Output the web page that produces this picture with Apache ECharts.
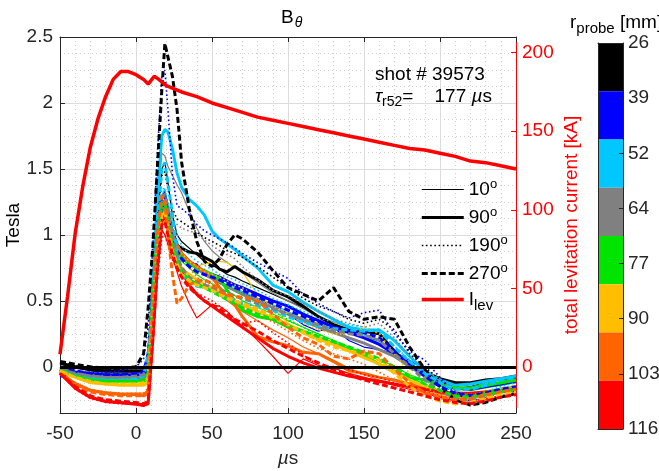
<!DOCTYPE html>
<html>
<head>
<meta charset="utf-8">
<script src="https://cdn.jsdelivr.net/npm/echarts@6/dist/echarts.min.js"></script>
<style>
html, body { margin: 0; padding: 0; background: #fff; }
#chart { width: 659px; height: 471px; }
</style>
</head>
<body>
<div id="chart"></div>
<script>
// time base of the B-dot traces [us]
const timeUs = [-50, -40, -30, -20, -10, 0, 5, 8, 11, 14, 17, 19, 21, 24, 27, 30, 35, 40, 45, 50, 55, 60, 65, 70,
  80, 90, 100, 110, 120, 130, 140, 150, 160, 170, 180, 190, 200, 210, 220, 230, 240, 250]

const probeRadius = [26, 39, 52, 64, 77, 90, 103, 116]
const angleNames = ['10°', '90°', '190°', '270°']

// B_theta [T], one row per probe radius (26 -> 116 mm)
const b10 = [
  [0.02, -0.01, -0.03, -0.04, -0.04, -0.04, -0.04, -0.02, 0.5, 1.1, 1.5, 1.55, 1.4, 1.15, 1.0, 0.95, 0.9, 0.85, 0.8, 0.77, 0.74, 0.7, 0.68, 0.65, 0.6, 0.55, 0.5, 0.45, 0.38, 0.32, 0.27, 0.22, 0.2, 0.1, 0.0, -0.05, -0.1, -0.13, -0.15, -0.12, -0.1, -0.09],
  [-0.05, -0.05, -0.06, -0.07, -0.07, -0.06, -0.06, -0.03, 0.5, 1.0, 1.3, 1.33, 1.2, 1.05, 0.95, 0.85, 0.78, 0.78, 0.72, 0.69, 0.65, 0.6, 0.58, 0.56, 0.52, 0.46, 0.4, 0.32, 0.27, 0.3, 0.2, 0.15, 0.13, 0.1, 0.05, -0.02, -0.1, -0.15, -0.17, -0.15, -0.13, -0.12],
  [-0.02, -0.06, -0.08, -0.09, -0.09, -0.09, -0.09, -0.06, 0.5, 1.0, 1.3, 1.35, 1.22, 1.02, 0.92, 0.85, 0.8, 0.75, 0.72, 0.7, 0.67, 0.64, 0.6, 0.57, 0.52, 0.47, 0.42, 0.36, 0.32, 0.3, 0.28, 0.24, 0.18, 0.1, 0.0, -0.08, -0.14, -0.17, -0.16, -0.12, -0.1, -0.08],
  [-0.02, -0.05, -0.07, -0.08, -0.08, -0.08, -0.08, -0.05, 0.55, 1.2, 1.62, 1.6, 1.52, 1.45, 1.38, 1.32, 1.18, 1.05, 0.95, 0.88, 0.83, 0.79, 0.75, 0.72, 0.64, 0.56, 0.5, 0.44, 0.38, 0.34, 0.3, 0.25, 0.2, 0.12, 0.03, -0.05, -0.11, -0.15, -0.17, -0.15, -0.12, -0.1],
  [-0.03, -0.07, -0.1, -0.11, -0.11, -0.11, -0.11, -0.1, 0.5, 0.95, 1.2, 1.22, 1.1, 0.95, 0.85, 0.8, 0.75, 0.7, 0.66, 0.63, 0.6, 0.57, 0.54, 0.5, 0.45, 0.4, 0.35, 0.3, 0.25, 0.2, 0.15, 0.1, 0.06, 0.0, -0.06, -0.1, -0.14, -0.17, -0.18, -0.16, -0.14, -0.12],
  [-0.03, -0.08, -0.11, -0.13, -0.13, -0.13, -0.13, -0.12, 0.45, 0.9, 1.15, 1.18, 1.05, 0.95, 0.88, 0.82, 0.78, 0.76, 0.78, 0.79, 0.8, 0.79, 0.75, 0.72, 0.55, 0.45, 0.33, 0.25, 0.2, 0.17, 0.14, 0.1, 0.05, -0.02, -0.08, -0.13, -0.18, -0.2, -0.2, -0.18, -0.16, -0.14],
  [-0.04, -0.12, -0.17, -0.19, -0.2, -0.2, -0.2, -0.18, 0.4, 0.85, 1.12, 1.15, 1.05, 0.9, 0.82, 0.76, 0.7, 0.66, 0.62, 0.58, 0.54, 0.5, 0.46, 0.42, 0.35, 0.28, 0.22, 0.15, 0.1, 0.05, -0.01, -0.06, -0.1, -0.13, -0.16, -0.19, -0.22, -0.24, -0.24, -0.22, -0.2, -0.18],
  [-0.05, -0.17, -0.24, -0.27, -0.28, -0.29, -0.3, -0.28, 0.2, 0.7, 1.04, 1.0, 0.93, 0.83, 0.72, 0.61, 0.48, 0.37, 0.42, 0.47, 0.46, 0.42, 0.36, 0.31, 0.2, 0.08, -0.05, 0.06, 0.01, -0.01, -0.05, -0.08, -0.11, -0.14, -0.17, -0.2, -0.23, -0.26, -0.27, -0.25, -0.23, -0.21]
]
const b90 = [
  [0.03, 0.0, -0.02, -0.03, -0.03, -0.03, -0.03, -0.02, 0.6, 1.0, 1.2, 1.22, 1.1, 0.98, 0.92, 0.9, 0.87, 0.86, 0.83, 0.8, 0.74, 0.72, 0.76, 0.72, 0.66, 0.58, 0.53, 0.46, 0.38, 0.32, 0.28, 0.27, 0.25, 0.12, 0.0, -0.04, -0.09, -0.12, -0.12, -0.1, -0.09, -0.07],
  [-0.02, -0.04, -0.05, -0.06, -0.06, -0.06, -0.06, -0.04, 0.55, 1.0, 1.28, 1.3, 1.18, 1.0, 0.92, 0.86, 0.8, 0.76, 0.72, 0.7, 0.68, 0.65, 0.62, 0.6, 0.55, 0.5, 0.46, 0.4, 0.35, 0.3, 0.26, 0.22, 0.17, 0.1, 0.02, -0.05, -0.12, -0.16, -0.17, -0.15, -0.13, -0.11],
  [-0.03, -0.07, -0.09, -0.1, -0.1, -0.1, -0.1, -0.05, 0.6, 1.3, 1.75, 1.8, 1.78, 1.65, 1.47, 1.36, 1.27, 1.22, 1.15, 1.03, 0.97, 0.93, 0.89, 0.84, 0.75, 0.62, 0.57, 0.49, 0.42, 0.36, 0.3, 0.28, 0.28, 0.2, 0.08, -0.03, -0.1, -0.14, -0.13, -0.11, -0.09, -0.07],
  [-0.01, -0.05, -0.07, -0.08, -0.08, -0.08, -0.08, -0.06, 0.5, 1.0, 1.25, 1.25, 1.15, 1.0, 0.92, 0.86, 0.8, 0.75, 0.7, 0.67, 0.64, 0.61, 0.58, 0.55, 0.5, 0.45, 0.4, 0.35, 0.3, 0.26, 0.22, 0.18, 0.13, 0.08, 0.0, -0.07, -0.13, -0.16, -0.16, -0.14, -0.12, -0.1],
  [-0.02, -0.07, -0.1, -0.11, -0.11, -0.11, -0.11, -0.09, 0.5, 1.0, 1.2, 1.2, 1.1, 0.96, 0.89, 0.83, 0.78, 0.75, 0.73, 0.7, 0.67, 0.58, 0.5, 0.43, 0.38, 0.36, 0.3, 0.27, 0.22, 0.18, 0.13, 0.09, 0.02, -0.04, -0.08, -0.1, -0.14, -0.16, -0.16, -0.14, -0.12, -0.1],
  [-0.03, -0.08, -0.12, -0.13, -0.14, -0.14, -0.14, -0.12, 0.45, 0.9, 1.12, 1.15, 1.05, 0.9, 0.8, 0.74, 0.7, 0.66, 0.62, 0.6, 0.57, 0.54, 0.5, 0.47, 0.42, 0.37, 0.32, 0.27, 0.22, 0.17, 0.12, 0.07, 0.02, -0.04, -0.1, -0.15, -0.19, -0.22, -0.23, -0.21, -0.19, -0.17],
  [-0.04, -0.13, -0.18, -0.2, -0.21, -0.21, -0.22, -0.2, 0.4, 0.9, 1.18, 1.2, 1.15, 1.0, 0.92, 0.86, 0.8, 0.76, 0.72, 0.68, 0.6, 0.53, 0.47, 0.38, 0.23, 0.19, 0.16, 0.11, 0.1, 0.04, -0.03, -0.05, -0.08, -0.1, -0.13, -0.17, -0.2, -0.22, -0.22, -0.2, -0.19, -0.17],
  [-0.05, -0.16, -0.23, -0.26, -0.27, -0.28, -0.29, -0.28, 0.2, 0.75, 1.1, 1.15, 1.05, 0.9, 0.8, 0.72, 0.62, 0.55, 0.5, 0.46, 0.42, 0.38, 0.34, 0.3, 0.22, 0.14, 0.08, 0.03, -0.01, -0.04, -0.07, -0.09, -0.11, -0.13, -0.15, -0.17, -0.19, -0.2, -0.2, -0.19, -0.18, -0.17]
]
const b190 = [
  [0.04, 0.01, -0.01, -0.02, -0.02, -0.01, 0.0, 0.05, 0.55, 1.1, 1.45, 1.48, 1.35, 1.2, 1.12, 1.1, 1.06, 1.02, 0.98, 0.95, 0.92, 0.88, 0.86, 0.83, 0.76, 0.68, 0.6, 0.52, 0.46, 0.42, 0.36, 0.33, 0.36, 0.28, 0.1, 0.0, -0.1, -0.18, -0.24, -0.22, -0.19, -0.17],
  [-0.08, -0.04, -0.04, -0.04, -0.03, 0.0, 0.06, 0.3, 0.9, 1.6, 2.2, 2.25, 1.95, 1.45, 1.22, 1.2, 1.15, 1.08, 1.03, 1.0, 0.97, 0.94, 0.9, 0.86, 0.79, 0.73, 0.67, 0.55, 0.48, 0.42, 0.37, 0.41, 0.43, 0.25, 0.12, 0.05, -0.08, -0.2, -0.26, -0.23, -0.2, -0.18],
  [-0.03, -0.06, -0.08, -0.09, -0.09, -0.08, -0.06, 0.05, 0.5, 1.05, 1.35, 1.35, 1.25, 1.1, 1.0, 0.92, 0.85, 0.8, 0.77, 0.74, 0.7, 0.68, 0.66, 0.63, 0.58, 0.52, 0.47, 0.42, 0.37, 0.34, 0.32, 0.3, 0.26, 0.16, 0.05, -0.05, -0.13, -0.2, -0.22, -0.19, -0.15, -0.12],
  [-0.02, -0.05, -0.06, -0.07, -0.07, -0.06, -0.05, 0.0, 0.5, 1.0, 1.3, 1.32, 1.2, 1.12, 1.08, 1.05, 1.03, 1.01, 0.96, 0.92, 0.88, 0.85, 0.82, 0.76, 0.66, 0.58, 0.54, 0.48, 0.42, 0.36, 0.33, 0.3, 0.33, 0.22, 0.08, -0.02, -0.1, -0.18, -0.22, -0.2, -0.17, -0.15],
  [-0.03, -0.07, -0.09, -0.1, -0.1, -0.1, -0.1, -0.06, 0.5, 0.95, 1.18, 1.2, 1.1, 0.98, 0.9, 0.84, 0.78, 0.74, 0.7, 0.68, 0.65, 0.62, 0.58, 0.55, 0.48, 0.42, 0.36, 0.3, 0.24, 0.2, 0.15, 0.1, 0.05, -0.02, -0.08, -0.13, -0.17, -0.2, -0.21, -0.19, -0.17, -0.15],
  [-0.03, -0.08, -0.11, -0.12, -0.13, -0.12, -0.12, -0.08, 0.45, 0.9, 1.12, 1.15, 1.05, 0.97, 0.9, 0.86, 0.8, 0.76, 0.72, 0.7, 0.68, 0.65, 0.62, 0.6, 0.52, 0.46, 0.4, 0.33, 0.28, 0.25, 0.25, 0.3, 0.25, 0.1, -0.05, -0.15, -0.22, -0.25, -0.25, -0.22, -0.19, -0.17],
  [-0.04, -0.12, -0.17, -0.19, -0.2, -0.2, -0.2, -0.16, 0.4, 0.85, 1.1, 1.1, 1.02, 0.98, 0.95, 0.85, 0.75, 0.68, 0.64, 0.6, 0.56, 0.52, 0.48, 0.45, 0.4, 0.34, 0.27, 0.2, 0.14, 0.1, 0.06, 0.02, -0.04, -0.1, -0.15, -0.2, -0.24, -0.27, -0.27, -0.25, -0.22, -0.2],
  [-0.05, -0.17, -0.24, -0.27, -0.28, -0.28, -0.29, -0.27, 0.2, 0.65, 0.98, 1.0, 0.92, 0.81, 0.74, 0.68, 0.6, 0.56, 0.53, 0.5, 0.46, 0.42, 0.36, 0.33, 0.35, 0.26, 0.18, 0.09, 0.01, 0.0, -0.02, -0.06, -0.08, -0.12, -0.15, -0.19, -0.22, -0.25, -0.26, -0.24, -0.22, -0.2]
]
const b270 = [
  [0.04, 0.02, 0.0, -0.01, -0.01, 0.0, 0.1, 0.45, 0.9, 1.5, 2.1, 2.45, 2.35, 2.2, 1.95, 1.55, 1.2, 0.95, 0.8, 0.76, 0.82, 0.93, 1.0, 0.97, 0.87, 0.73, 0.6, 0.55, 0.5, 0.6, 0.42, 0.36, 0.38, 0.36, 0.15, -0.02, -0.15, -0.25, -0.29, -0.27, -0.23, -0.2],
  [0.0, -0.03, -0.05, -0.06, -0.06, -0.05, -0.04, 0.1, 0.5, 0.95, 1.22, 1.25, 1.15, 0.95, 0.88, 0.82, 0.76, 0.72, 0.7, 0.68, 0.66, 0.63, 0.6, 0.58, 0.53, 0.48, 0.43, 0.38, 0.33, 0.3, 0.27, 0.26, 0.22, 0.12, 0.02, -0.07, -0.15, -0.2, -0.22, -0.2, -0.17, -0.15],
  [-0.02, -0.06, -0.08, -0.09, -0.09, -0.09, -0.07, 0.1, 0.5, 1.1, 1.5, 1.55, 1.4, 1.15, 0.85, 0.7, 0.65, 0.61, 0.6, 0.58, 0.55, 0.52, 0.5, 0.48, 0.46, 0.43, 0.38, 0.34, 0.31, 0.29, 0.28, 0.27, 0.28, 0.15, 0.04, -0.05, -0.12, -0.17, -0.17, -0.14, -0.1, -0.08],
  [-0.02, -0.05, -0.07, -0.08, -0.08, -0.07, -0.06, 0.05, 0.5, 1.0, 1.28, 1.3, 1.2, 1.0, 0.85, 0.75, 0.68, 0.64, 0.62, 0.6, 0.58, 0.56, 0.54, 0.52, 0.48, 0.44, 0.4, 0.36, 0.32, 0.28, 0.25, 0.24, 0.2, 0.1, 0.0, -0.1, -0.18, -0.24, -0.26, -0.23, -0.19, -0.17],
  [-0.03, -0.07, -0.1, -0.11, -0.11, -0.11, -0.1, -0.05, 0.5, 1.0, 1.22, 1.25, 1.1, 0.92, 0.8, 0.72, 0.66, 0.63, 0.6, 0.57, 0.54, 0.51, 0.48, 0.45, 0.4, 0.36, 0.31, 0.27, 0.23, 0.19, 0.15, 0.11, 0.06, 0.0, -0.07, -0.13, -0.18, -0.22, -0.23, -0.21, -0.19, -0.17],
  [-0.03, -0.08, -0.11, -0.13, -0.13, -0.13, -0.12, -0.08, 0.45, 0.9, 1.15, 1.18, 1.05, 0.88, 0.78, 0.7, 0.65, 0.62, 0.6, 0.58, 0.55, 0.52, 0.5, 0.48, 0.44, 0.38, 0.32, 0.26, 0.2, 0.15, 0.12, 0.1, 0.05, -0.05, -0.15, -0.22, -0.26, -0.28, -0.27, -0.24, -0.21, -0.19],
  [-0.05, -0.14, -0.19, -0.21, -0.22, -0.22, -0.22, -0.18, 0.45, 1.0, 1.3, 1.25, 1.0, 0.7, 0.48, 0.52, 0.62, 0.65, 0.66, 0.63, 0.57, 0.55, 0.53, 0.53, 0.5, 0.4, 0.3, 0.22, 0.17, 0.08, 0.06, 0.12, 0.1, -0.02, -0.12, -0.2, -0.23, -0.25, -0.24, -0.21, -0.19, -0.17],
  [-0.05, -0.15, -0.22, -0.25, -0.26, -0.27, -0.28, -0.26, 0.2, 0.75, 1.08, 1.1, 1.0, 0.85, 0.75, 0.68, 0.6, 0.55, 0.5, 0.47, 0.44, 0.4, 0.36, 0.33, 0.27, 0.2, 0.14, 0.08, 0.03, -0.02, -0.06, -0.1, -0.13, -0.16, -0.19, -0.22, -0.25, -0.27, -0.28, -0.26, -0.23, -0.21]
]

// total levitation current [kA]
const levTimeUs = [-50, -45, -40, -35, -30, -25, -20, -15, -10, -5, 0, 5, 8, 12, 15, 20, 25, 30, 40, 50, 60, 70, 80, 90,
  100, 110, 120, 130, 140, 150, 160, 170, 180, 190, 200, 210, 220, 230, 240, 250]
const levCurrent = [8, 45, 85, 115, 140, 158, 172, 183, 188, 188, 186, 183, 180, 185, 183, 179, 177, 175, 172, 168, 165, 162, 159, 157,
  155, 153, 151, 149, 147, 145, 143, 141, 139, 138, 136, 134, 131, 130, 128, 126]

const xTicks = [-50, 250, 50]          // min, max, step
const teslaRange = [-0.35, 2.5]
const kAPerTesla = 84                   // right axis is a scaled copy of the left one
const colorbarCells = [1, 1, 1, 1, 1, 1, 1, 1]

const probeColors = ['#000000', '#0000ff', '#00c8ff', '#808080', '#00e400', '#ffbf00', '#ff6400', '#ff0000']
const angleStyles = [
  { width: 1.2, type: 'solid' },
  { width: 3, type: 'solid' },
  { width: 1.6, type: [1.6, 2.6] },
  { width: 3, type: [6, 3] }
]
const font = 'Liberation Sans, Arial, Helvetica, sans-serif'
const ink = '#262626'

const legendText = {
  '10°': '10{sup|o}',
  '90°': '90{sup|o}',
  '190°': '190{sup|o}',
  '270°': '270{sup|o}',
  'Ilev': 'I{sub|lev}'
}

const chart = echarts.init(document.getElementById('chart'))

const series = []
;[b10, b90, b190, b270].forEach((set, a) => {
  set.forEach((row, r) => {
    series.push({
      name: probeRadius[r] + ' mm ' + angleNames[a],
      type: 'line',
      xAxisIndex: 0,
      yAxisIndex: 0,
      symbol: 'none',
      silent: true,
      z: 2,
      data: timeUs.map((t, i) => [t, row[i]]),
      lineStyle: { color: probeColors[r], width: angleStyles[a].width, type: angleStyles[a].type, cap: 'butt' }
    })
  })
})

// legend samples (black)
angleNames.forEach((n, a) => {
  series.push({
    name: n,
    type: 'line',
    xAxisIndex: 0,
    yAxisIndex: 0,
    symbol: 'none',
    data: [],
    color: '#000',
    lineStyle: { color: '#000', width: angleStyles[a].width, type: angleStyles[a].type }
  })
})

// zero line
series.push({
  name: 'zero',
  type: 'line',
  xAxisIndex: 0,
  yAxisIndex: 0,
  data: [],
  z: 3,
  markLine: {
    silent: true,
    symbol: 'none',
    label: { show: false },
    lineStyle: { color: '#000', width: 3, type: 'solid' },
    data: [{ yAxis: 0 }]
  }
})

series.push({
  name: 'Ilev',
  type: 'line',
  xAxisIndex: 0,
  yAxisIndex: 1,
  symbol: 'none',
  z: 4,
  color: '#ff0000',
  data: levTimeUs.map((t, i) => [t, levCurrent[i]]),
  lineStyle: { color: '#ff0000', width: 3.5 }
})

// colorbar
colorbarCells.forEach((v, i) => {
  series.push({
    name: 'cb' + probeRadius[i],
    type: 'bar',
    xAxisIndex: 2,
    yAxisIndex: 2,
    stack: 'cb',
    barWidth: '100%',
    silent: true,
    data: [v],
    itemStyle: { color: probeColors[i] }
  })
})

const legendItems = angleNames.map((n, a) => ({
  name: n,
  lineStyle: { color: '#000', width: angleStyles[a].width, type: angleStyles[a].type }
})).concat([{ name: 'Ilev', lineStyle: { color: '#ff0000', width: 3.5, type: 'solid' } }])

const option = {
  animation: false,
  backgroundColor: '#fff',
  textStyle: { fontFamily: font },
  title: [
    {
      text: 'B{sub|θ}',
      left: 276,
      top: 1,
      textStyle: {
        fontFamily: font, fontSize: 19, fontWeight: 'normal', color: '#000',
        rich: { sub: { fontFamily: font, fontSize: 14, fontStyle: 'italic', padding: [10, 0, 0, 1] } }
      }
    },
    {
      text: 'shot # 39573',
      left: 370,
      top: 60,
      textStyle: { fontFamily: font, fontSize: 19, fontWeight: 'normal', color: '#000' }
    },
    {
      text: '{i|τ}{sub|r52}=    177 {i|µ}s',
      left: 370,
      top: 80,
      textStyle: {
        fontFamily: font, fontSize: 19, fontWeight: 'normal', color: '#000',
        rich: {
          i: { fontFamily: font, fontSize: 19, fontStyle: 'italic' },
          sub: { fontFamily: font, fontSize: 14, padding: [10, 0, 0, 0] }
        }
      }
    },
    {
      text: 'r{sub|probe} [mm]',
      left: 565,
      top: 4,
      textStyle: {
        fontFamily: font, fontSize: 19, fontWeight: 'normal', color: '#000',
        rich: { sub: { fontFamily: font, fontSize: 15, padding: [12, 0, 0, 0] } }
      }
    }
  ],
  legend: {
    orient: 'vertical',
    left: 420,
    top: 178,
    padding: 0,
    itemWidth: 42,
    itemHeight: 14,
    itemGap: 7,
    selectedMode: false,
    data: legendItems,
    formatter: name => legendText[name],
    itemStyle: { opacity: 0 },
    textStyle: {
      fontFamily: font, fontSize: 19, color: '#000',
      rich: {
        sup: { fontFamily: font, fontSize: 13, padding: [0, 0, 10, 0] },
        sub: { fontFamily: font, fontSize: 15, padding: [12, 0, 0, 0] }
      }
    }
  },
  grid: [
    { left: 60, right: 143, top: 37, bottom: 58, outerBoundsMode: 'none' },
    { left: 598, top: 43, width: 25, height: 386, outerBoundsMode: 'none' }
  ],
  xAxis: [
    {
      type: 'value',
      gridIndex: 0,
      position: 'bottom',
      min: xTicks[0],
      max: xTicks[1],
      interval: xTicks[2],
      name: '{i|µ}s',
      nameLocation: 'middle',
      nameGap: 36,
      nameTextStyle: { fontFamily: font, fontSize: 19, color: ink, rich: { i: { fontFamily: font, fontSize: 19, fontStyle: 'italic' } } },
      axisLine: { onZero: false, lineStyle: { color: ink, width: 1 } },
      axisTick: { inside: true, length: 5, lineStyle: { color: ink } },
      axisLabel: { fontFamily: font, fontSize: 19, color: ink, margin: 11 },
      splitLine: { show: true, lineStyle: { color: '#dcdcdc', width: 1 } },
      minorTick: { show: false, splitNumber: 5 },
      minorSplitLine: { show: true, lineStyle: { color: '#cfcfcf', width: 1, type: [1, 3] } }
    },
    {
      type: 'value',
      gridIndex: 0,
      position: 'top',
      min: xTicks[0],
      max: xTicks[1],
      interval: xTicks[2],
      axisLine: { onZero: false, lineStyle: { color: ink, width: 1 } },
      axisTick: { inside: true, length: 5, lineStyle: { color: ink } },
      axisLabel: { show: false },
      splitLine: { show: false }
    },
    {
      type: 'category',
      gridIndex: 1,
      data: [''],
      z: 5,
      axisLine: { show: true, onZero: false, lineStyle: { color: ink } },
      axisTick: { show: false },
      axisLabel: { show: false },
      splitLine: { show: false }
    },
    {
      type: 'category',
      gridIndex: 1,
      position: 'top',
      data: [''],
      z: 5,
      axisLine: { show: true, onZero: false, lineStyle: { color: ink } },
      axisTick: { show: false },
      axisLabel: { show: false },
      splitLine: { show: false }
    }
  ],
  yAxis: [
    {
      type: 'value',
      gridIndex: 0,
      position: 'left',
      min: teslaRange[0],
      max: teslaRange[1],
      name: 'Tesla',
      nameLocation: 'middle',
      nameGap: 37,
      nameMoveOverlap: false,
      nameRotate: 90,
      nameTextStyle: { fontFamily: font, fontSize: 19, color: '#000' },
      axisLine: { onZero: false, lineStyle: { color: ink, width: 1 } },
      axisTick: { inside: true, length: 5, lineStyle: { color: ink } },
      axisLabel: { fontFamily: font, fontSize: 19, color: ink, margin: 7, showMinLabel: false },
      splitLine: { show: true, lineStyle: { color: '#dcdcdc', width: 1 } },
      minorTick: { show: false, splitNumber: 4 },
      minorSplitLine: { show: true, lineStyle: { color: '#cfcfcf', width: 1, type: [1, 3] } }
    },
    {
      type: 'value',
      gridIndex: 0,
      position: 'right',
      min: teslaRange[0] * kAPerTesla,
      max: teslaRange[1] * kAPerTesla,
      name: 'total levitation current [kA]',
      nameLocation: 'middle',
      nameGap: 46,
      nameMoveOverlap: false,
      nameRotate: 90,
      nameTextStyle: { fontFamily: font, fontSize: 19, color: '#ff0000' },
      axisLine: { onZero: false, lineStyle: { color: '#ff0000', width: 1 } },
      axisTick: { inside: true, length: 5, lineStyle: { color: '#ff0000' } },
      axisLabel: { fontFamily: font, fontSize: 19, color: '#ff0000', margin: 6, showMinLabel: false, showMaxLabel: false },
      splitLine: { show: false }
    },
    {
      type: 'value',
      gridIndex: 1,
      position: 'left',
      min: 0,
      max: colorbarCells.length,
      inverse: true,
      z: 5,
      axisLine: { show: true, onZero: false, lineStyle: { color: ink } },
      axisTick: { show: false },
      axisLabel: { show: false },
      splitLine: { show: false }
    },
    {
      type: 'value',
      gridIndex: 1,
      position: 'right',
      min: 0,
      max: probeRadius.length - 1,
      interval: 1,
      inverse: true,
      z: 5,
      axisLine: { show: true, onZero: false, lineStyle: { color: ink } },
      axisTick: { show: true, inside: true, length: 4, lineStyle: { color: ink } },
      axisLabel: { fontFamily: font, fontSize: 19, color: ink, margin: 5, formatter: v => probeRadius[v] },
      splitLine: { show: false }
    }
  ],
  series: series
}

chart.setOption(option)
</script>
</body>
</html>
